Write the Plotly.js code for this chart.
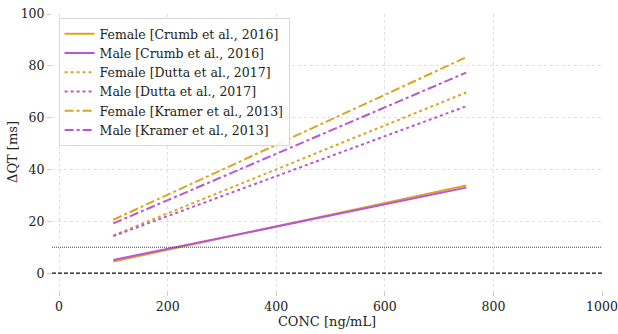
<!DOCTYPE html>
<html>
<head>
<meta charset="utf-8">
<script src="https://cdn.plot.ly/plotly-3.0.1.min.js"></script>
<style>html,body{margin:0;padding:0;background:#fff}#chart{width:618px;height:334px}</style>
</head>
<body>
<div id="chart"></div>
<script>
// Data
var conc = [100, 750];
var crumbFemale = [4.5, 33.8];
var crumbMale = [5.1, 33.0];
var duttaFemale = [14.6, 69.7];
var duttaMale = [14.3, 64.4];
var kramerFemale = [20.6, 83.3];
var kramerMale = [19.2, 77.4];
var seriesNames = [
  "Female [Crumb et al., 2016]",
  "Male [Crumb et al., 2016]",
  "Female [Dutta et al., 2017]",
  "Male [Dutta et al., 2017]",
  "Female [Kramer et al., 2013]",
  "Male [Kramer et al., 2013]"
];
var refLines = [10, 0];
var xTicks = [0, 200, 400, 600, 800, 1000];
var yTicks = [0, 20, 40, 60, 80, 100];

var FEMALE = "#DAA520", MALE = "#BA55D3";
var FONT = "DejaVu Serif";

function tr(y, name, color, dash) {
  return {x: conc, y: y, name: name, mode: "lines", type: "scatter",
    line: {color: color, width: 2, dash: dash}};
}
var data = [
  tr(crumbFemale, seriesNames[0], FEMALE, "solid"),
  tr(crumbMale, seriesNames[1], MALE, "solid"),
  tr(duttaFemale, seriesNames[2], FEMALE, "dot"),
  tr(duttaMale, seriesNames[3], MALE, "dot"),
  tr(kramerFemale, seriesNames[4], FEMALE, "dashdot"),
  tr(kramerMale, seriesNames[5], MALE, "dashdot")
];

var shapes = [
  {type: "line", xref: "paper", x0: 0, x1: 1, yref: "y", y0: refLines[0], y1: refLines[0],
   line: {color: "#444", width: 1, dash: "1px,1px"}, layer: "above"},
  {type: "line", xref: "paper", x0: 0, x1: 1, yref: "y", y0: refLines[1], y1: refLines[1],
   line: {color: "#111", width: 1.2, dash: "4px,2px"}, layer: "above"}
];

var layout = {
  width: 618, height: 334,
  margin: {l: 52, r: 16, t: 14, b: 44, pad: 0},
  paper_bgcolor: "#fff", plot_bgcolor: "#fff",
  font: {family: FONT, size: 12.5, color: "#222"},
  showlegend: true,
  legend: {x: 0.012, y: 0.985, xanchor: "left", yanchor: "top",
    bgcolor: "rgba(255,255,255,0.9)", bordercolor: "#d8d8d8", borderwidth: 1,
    font: {family: FONT, size: 12.5, color: "#222"}, itemwidth: 30, tracegroupgap: 0},
  xaxis: {range: [-13, 1000], tickvals: xTicks, ticktext: xTicks.map(String),
    showgrid: true, gridcolor: "#e0e0e0", griddash: "dot", gridwidth: 1,
    zeroline: false, showline: false, ticks: "outside", ticklen: 5, tickcolor: "#ccc",
    tickfont: {family: FONT, size: 12.5}, ticklabeloverflow: "allow",
    title: {text: "CONC [ng/mL]", font: {family: FONT, size: 13}, standoff: 2}},
  yaxis: {range: [-6.5, 100], tickvals: yTicks, ticktext: yTicks.map(String),
    showgrid: true, gridcolor: "#e0e0e0", griddash: "dot", gridwidth: 1,
    zeroline: false, showline: false, ticks: "outside", ticklen: 4, tickcolor: "#ccc",
    tickfont: {family: FONT, size: 12.5},
    title: {text: "ΔQT [ms]", font: {family: FONT, size: 13}, standoff: 0}},
  shapes: shapes
};

Plotly.newPlot("chart", data, layout, {displayModeBar: false, staticPlot: true});
</script>
</body>
</html>
